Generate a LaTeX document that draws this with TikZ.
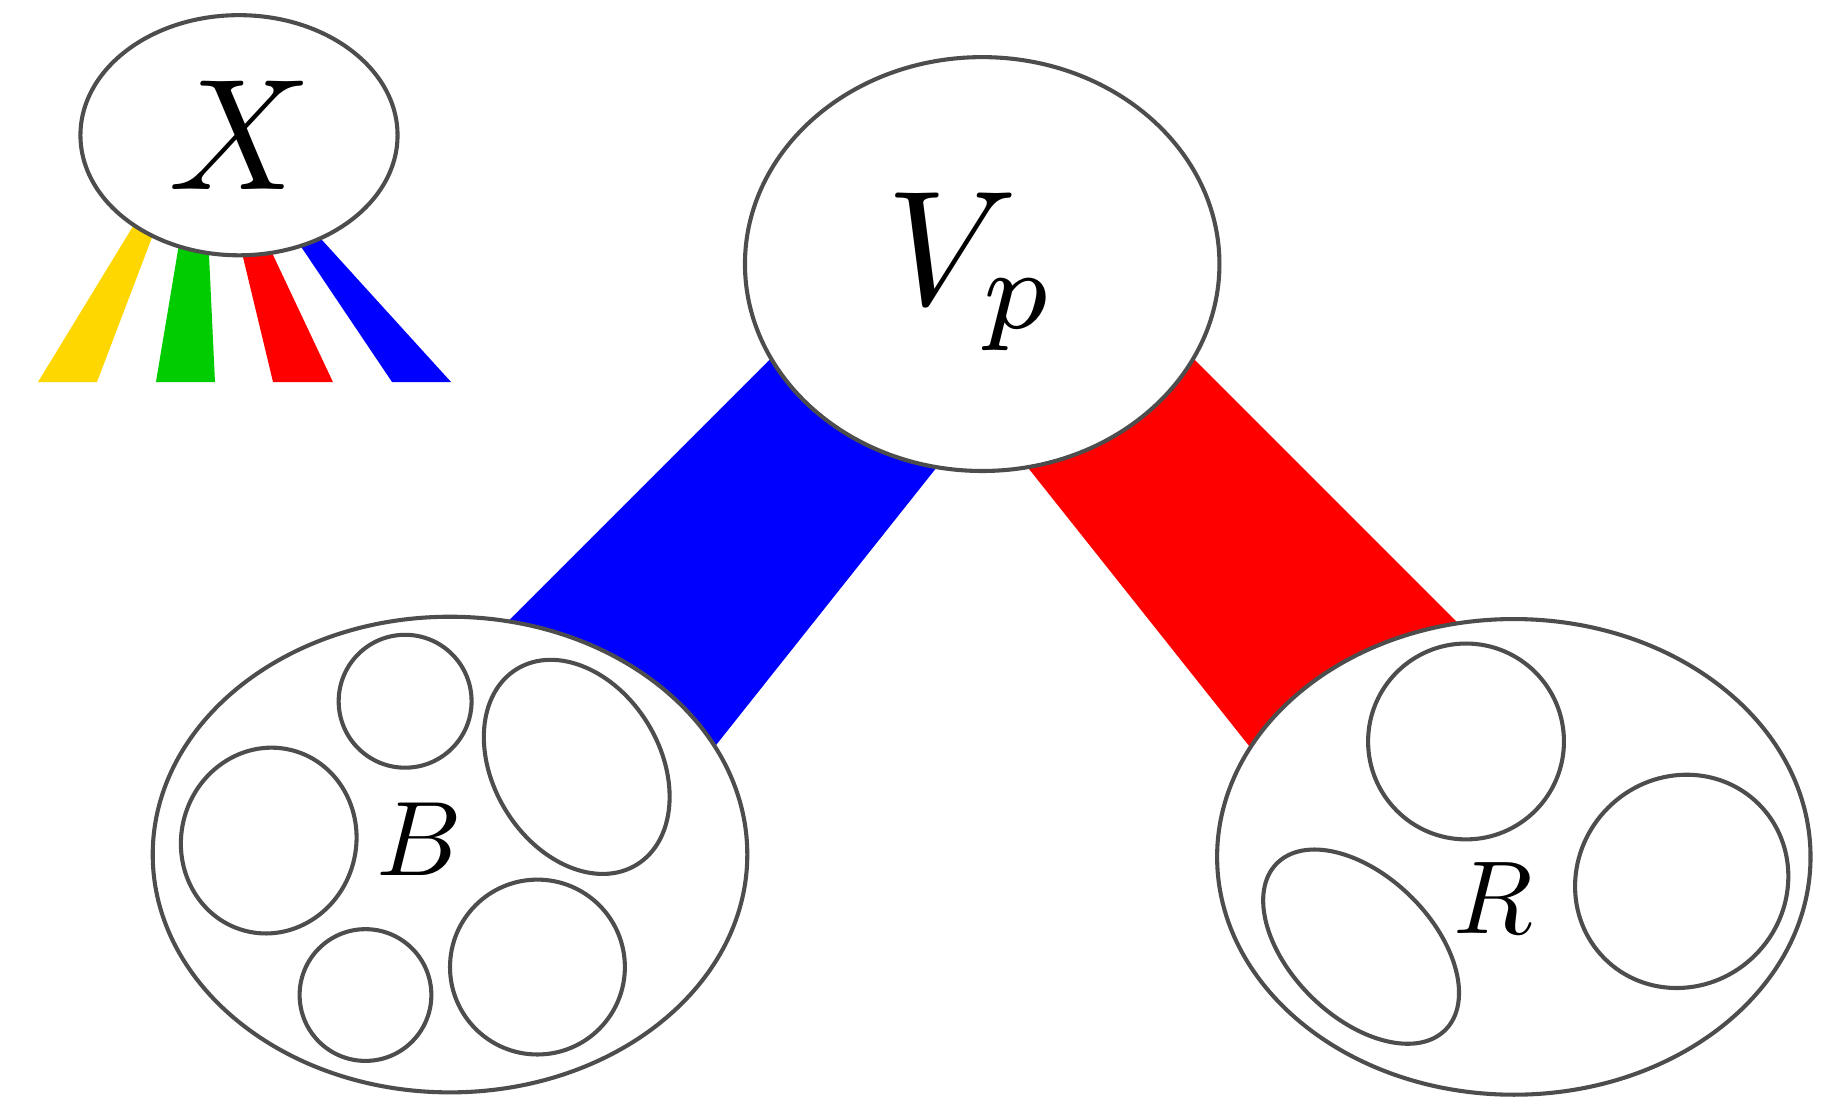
\documentclass[tikz,border=0pt]{standalone}
\usepackage{graphicx}
\usetikzlibrary{shapes.geometric}
\definecolor{outl}{HTML}{4D4D4D}
\definecolor{fanyellow}{HTML}{FFD700}
\definecolor{fangreen}{HTML}{00CC00}
\definecolor{fanred}{HTML}{FF0000}
\definecolor{fanblue}{HTML}{0000FF}
\begin{document}
\begin{tikzpicture}[x=1pt,y=-1pt,
  bigset/.style={ellipse, draw=outl, line width=3.5pt, fill=white, inner sep=0pt},
  part/.style={draw=outl, line width=3.5pt},
  lbl/.style={inner sep=0pt, text=black}]
\useasboundingbox (0,0) rectangle (1568,952);

% fans under X
\fill[fanyellow] (32.6,327.7) -- (128.8,170) -- (143.2,170) -- (83.2,327.7) -- cycle;
\fill[fangreen] (133.8,327.7) -- (160.1,170) -- (177,170) -- (184.4,327.7) -- cycle;
\fill[fanred] (234.2,327.7) -- (196.3,170) -- (211.2,170) -- (285.6,327.7) -- cycle;
\fill[fanblue] (336.3,327.7) -- (230.3,170) -- (243.6,170) -- (386.9,327.7) -- cycle;

% bands
\coordinate (b1) at (386.9,581.9);
\coordinate (b2) at (710,258.8);
\coordinate (b3) at (840.8,353.9);
\coordinate (b4) at (576.9,686);
\coordinate (r1) at (1298.1,581.9);
\coordinate (r2) at (975,258.8);
\coordinate (r3) at (844.2,353.9);
\coordinate (r4) at (1108.1,686);
\fill[fanblue] (b1) -- (b2) -- (b3) -- (b4) -- cycle;
\fill[fanred] (r1) -- (r2) -- (r3) -- (r4) -- cycle;

% big sets
\node[bigset, minimum width=272pt, minimum height=206pt] (Xset) at (205,116) {};
\node[bigset, minimum width=407pt, minimum height=355pt] (Vp) at (842.5,226.5) {};
\node[bigset, minimum width=510pt, minimum height=408pt] (B) at (386,733) {};
\node[bigset, minimum width=509pt, minimum height=408pt] (R) at (1298.5,735) {};

% labels
\node[lbl] (Xlabel) at (206,116.5) {\scalebox{13.6}{$X$}};
\node[lbl] (Vplabel) at (834,233) {\scalebox{14}{$V_p$}};
\node[lbl] (Blabel) at (360,720) {\scalebox{9.1}{$B$}};
\node[lbl] (Rlabel) at (1281,770) {\scalebox{8.9}{$R$}};

% parts of B
\draw[part] (347.5,601.5) circle[radius=57pt];
\draw[part, rotate around={-58.5:(494.7,657.8)}] (494.7,657.8) ellipse[x radius=98.4pt, y radius=71.4pt];
\draw[part, rotate around={75:(230.5,721)}] (230.5,721) ellipse[x radius=80pt, y radius=75pt];
\draw[part] (313.5,853.5) circle[radius=56.5pt];
\draw[part] (461,829.5) circle[radius=75pt];

% parts of R
\draw[part] (1257.5,636) circle[radius=84pt];
\draw[part, rotate around={45:(1442.5,756)}] (1442.5,756) ellipse[x radius=93.6pt, y radius=89.3pt];
\draw[part, rotate around={-44.5:(1167.5,812)}] (1167.5,812) ellipse[x radius=101.6pt, y radius=60.6pt];
\end{tikzpicture}
\end{document}
